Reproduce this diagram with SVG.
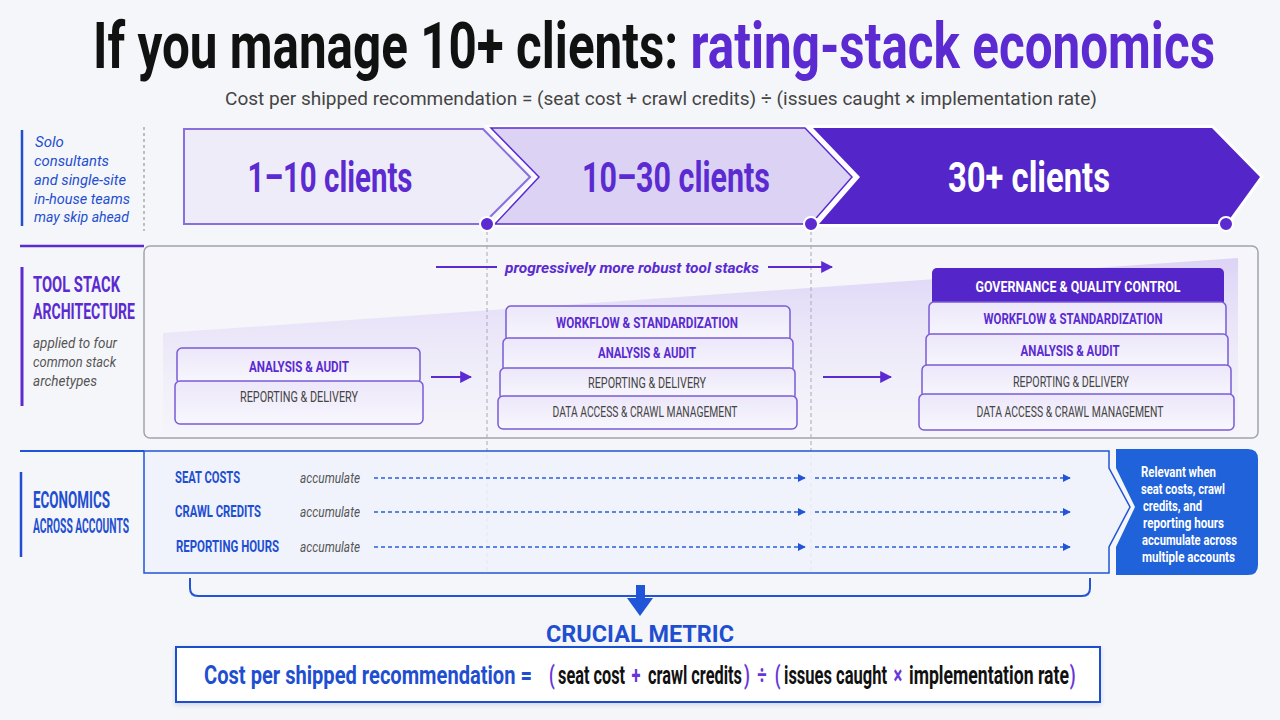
<svg xmlns="http://www.w3.org/2000/svg" width="1280" height="720" viewBox="0 0 1280 720">
<defs>
<linearGradient id="wedge" x1="0" y1="258" x2="0" y2="436" gradientUnits="userSpaceOnUse">
<stop offset="0" stop-color="#ddd3f6"/>
<stop offset="1" stop-color="#f4f3fa" stop-opacity="0.3"/>
</linearGradient>
<linearGradient id="layer" x1="0" y1="0" x2="0" y2="1">
<stop offset="0" stop-color="#ece7fa"/>
<stop offset="1" stop-color="#f8f7fd"/>
</linearGradient>
<marker id="ahp" viewBox="0 0 10 10" refX="9" refY="5" markerWidth="12" markerHeight="12" orient="auto" markerUnits="userSpaceOnUse">
<path d="M0,0 L10,5 L0,10 z" fill="#5b2bd1"/>
</marker>
<marker id="ahb" viewBox="0 0 10 10" refX="9" refY="5" markerWidth="8" markerHeight="8" orient="auto" markerUnits="userSpaceOnUse">
<path d="M0,0 L10,5 L0,10 z" fill="#1f55d6"/>
</marker>
<filter id="sh" x="-5%" y="-20%" width="110%" height="150%">
<feDropShadow dx="0" dy="2" stdDeviation="2" flood-color="#1f3a80" flood-opacity="0.18"/>
</filter>
</defs>
<style>
text{font-family:Roboto,"Liberation Sans",Arial,sans-serif}
.b{font-weight:700}
.it{font-style:italic}
.pur{fill:#5b2bd1}
.blu{fill:#1f4fd0}
.gry{fill:#444}
.lay{fill:url(#layer);stroke:#7a5bd8;stroke-width:1.5}
.lt{font-size:15px;text-anchor:middle}
.dash{stroke:#a9a9b4;stroke-width:1;stroke-dasharray:4,3;fill:none}
.bd{stroke:#2a5fd8;stroke-width:1.3;stroke-dasharray:4,3;fill:none}
.row{font-size:16px;font-weight:700;fill:#1f4fd0}
.acc{font-size:15px;font-style:italic;fill:#555}
.cw{font-size:15px;font-weight:700;fill:#fff}
.fm{font-size:25px;font-weight:700}
.op{fill:#6a35d8}
.bk{fill:#111}
</style>
<rect width="1280" height="720" fill="#f5f6fa"/>

<g id="title">
<text transform="translate(93,68) scale(0.68,1)" x="0" y="0" font-size="64" class="b" textLength="1650" lengthAdjust="spacingAndGlyphs"><tspan fill="#111">If you manage 10+ clients: </tspan><tspan fill="#5b2bd1">rating-stack economics</tspan></text>
<text x="225" y="105" font-size="19" fill="#444" textLength="872" lengthAdjust="spacingAndGlyphs">Cost per shipped recommendation = (seat cost + crawl credits) ÷ (issues caught × implementation rate)</text>
</g>

<g id="note-solo">
<line x1="22" y1="130" x2="22" y2="226" stroke="#1f4fd0" stroke-width="2.5"/>
<g class="it blu" font-size="15">
<text x="35" y="147">Solo</text>
<text x="34" y="166" textLength="75" lengthAdjust="spacingAndGlyphs">consultants</text>
<text x="34" y="185" textLength="92" lengthAdjust="spacingAndGlyphs">and single-site</text>
<text x="34" y="204" textLength="96" lengthAdjust="spacingAndGlyphs">in-house teams</text>
<text x="34" y="222" textLength="95" lengthAdjust="spacingAndGlyphs">may skip ahead</text>
</g>
<line x1="144" y1="127" x2="144" y2="231" stroke="#aaa" stroke-width="1.5" stroke-dasharray="3,3"/>
</g>

<g id="phase-1">
<polygon points="184,129 483,129 530,177 483,224 184,224" fill="#efecf9" stroke="#8a6edc" stroke-width="2"/>
<text x="330" y="192" font-size="42" class="b pur" text-anchor="middle" textLength="165" lengthAdjust="spacingAndGlyphs">1–10 clients</text>
</g>
<g id="phase-2">
<polygon points="491,128 805,128 852,177 811,224 495,224 539,177" fill="none" stroke="#fff" stroke-width="6"/>
<polygon points="491,128 805,128 852,177 811,224 495,224 539,177" fill="#dcd3f4" stroke="#5b2bd1" stroke-width="1.5"/>
<text x="676" y="192" font-size="42" class="b pur" text-anchor="middle" textLength="188" lengthAdjust="spacingAndGlyphs">10–30 clients</text>
</g>
<g id="phase-3">
<polygon points="813,128 1212,128 1260,177 1226,224 819,224 860,177" fill="none" stroke="#fff" stroke-width="6"/>
<polygon points="813,128 1212,128 1260,177 1226,224 819,224 860,177" fill="#5425c8"/>
<text x="1029" y="192" font-size="42" class="b" fill="#fff" text-anchor="middle" textLength="162" lengthAdjust="spacingAndGlyphs">30+ clients</text>
</g>

<g id="tool-stack-section">
<line x1="20" y1="246" x2="144" y2="246" stroke="#5b2bd1" stroke-width="2.5"/>
<rect x="144" y="246" width="1114" height="192" rx="6" fill="#f5f5fa" stroke="#a3a3ad" stroke-width="1.5"/>
<polygon points="163,333 1238,258 1238,434 163,434" fill="url(#wedge)"/>
<line x1="22" y1="267" x2="22" y2="406" stroke="#5b2bd1" stroke-width="3"/>
<text x="33" y="292" font-size="22" class="b pur" textLength="87" lengthAdjust="spacingAndGlyphs">TOOL STACK</text>
<text x="33" y="319" font-size="22" class="b pur" textLength="102" lengthAdjust="spacingAndGlyphs">ARCHITECTURE</text>
<g class="it" fill="#555" font-size="15">
<text x="33" y="348" textLength="84" lengthAdjust="spacingAndGlyphs">applied to four</text>
<text x="33" y="367" textLength="83" lengthAdjust="spacingAndGlyphs">common stack</text>
<text x="33" y="386" textLength="64" lengthAdjust="spacingAndGlyphs">archetypes</text>
</g>
</g>

<g id="guides">
<line x1="487" y1="231" x2="487" y2="572" class="dash"/>
<line x1="811" y1="231" x2="811" y2="572" class="dash"/>
</g>

<g id="phase-markers" fill="#5b2bd1" stroke="#fff" stroke-width="2">
<circle cx="487" cy="224" r="7"/>
<circle cx="811" cy="224" r="7"/>
<circle cx="1226" cy="224" r="7"/>
</g>

<g id="robust-label">
<text x="505" y="273" font-size="15" class="b it pur" textLength="254" lengthAdjust="spacingAndGlyphs">progressively more robust tool stacks</text>
</g>

<g id="stack-1">
<rect x="177" y="348" width="243" height="36" rx="5" class="lay"/>
<rect x="175" y="381" width="248" height="43" rx="5" class="lay"/>
<text x="299" y="372" class="lt b pur" textLength="100" lengthAdjust="spacingAndGlyphs">ANALYSIS &amp; AUDIT</text>
<text x="299" y="402" class="lt gry" textLength="118" lengthAdjust="spacingAndGlyphs">REPORTING &amp; DELIVERY</text>
</g>

<g id="stack-2">
<rect x="506" y="306" width="284" height="36" rx="5" class="lay"/>
<rect x="503" y="338" width="290" height="34" rx="5" class="lay"/>
<rect x="500" y="368" width="295" height="32" rx="5" class="lay"/>
<rect x="498" y="396" width="299" height="33" rx="5" class="lay"/>
<text x="647" y="328" class="lt b pur" textLength="182" lengthAdjust="spacingAndGlyphs">WORKFLOW &amp; STANDARDIZATION</text>
<text x="647" y="358" class="lt b pur" textLength="98" lengthAdjust="spacingAndGlyphs">ANALYSIS &amp; AUDIT</text>
<text x="647" y="388" class="lt gry" textLength="118" lengthAdjust="spacingAndGlyphs">REPORTING &amp; DELIVERY</text>
<text x="645" y="417" class="lt gry" textLength="185" lengthAdjust="spacingAndGlyphs">DATA ACCESS &amp; CRAWL MANAGEMENT</text>
</g>

<g id="stack-3">
<rect x="932" y="268" width="292" height="38" rx="5" fill="#5425c8"/>
<rect x="929" y="302" width="297" height="36" rx="5" class="lay"/>
<rect x="926" y="334" width="302" height="35" rx="5" class="lay"/>
<rect x="922" y="365" width="309" height="33" rx="5" class="lay"/>
<rect x="919" y="394" width="315" height="36" rx="5" class="lay"/>
<text x="1078" y="292" class="lt b" fill="#fff" textLength="205" lengthAdjust="spacingAndGlyphs">GOVERNANCE &amp; QUALITY CONTROL</text>
<text x="1073" y="324" class="lt b pur" textLength="179" lengthAdjust="spacingAndGlyphs">WORKFLOW &amp; STANDARDIZATION</text>
<text x="1070" y="356" class="lt b pur" textLength="99" lengthAdjust="spacingAndGlyphs">ANALYSIS &amp; AUDIT</text>
<text x="1071" y="387" class="lt gry" textLength="116" lengthAdjust="spacingAndGlyphs">REPORTING &amp; DELIVERY</text>
<text x="1070" y="417" class="lt gry" textLength="187" lengthAdjust="spacingAndGlyphs">DATA ACCESS &amp; CRAWL MANAGEMENT</text>
</g>

<g id="economics-section">
<line x1="20" y1="451" x2="144" y2="451" stroke="#1f55d6" stroke-width="2"/>
<path d="M144,451 L1109,451 L1109,468 L1130,507 L1109,547 L1109,573 L144,573 Z" fill="#eef2fb" fill-opacity="0.85" stroke="#1f55d6" stroke-width="1.5"/>
<line x1="21" y1="472" x2="21" y2="557" stroke="#1f4fd0" stroke-width="2.5"/>
<text transform="translate(0,508) scale(0.6,1)" x="55" y="0" font-size="24" class="b blu" textLength="128.3" lengthAdjust="spacingAndGlyphs">ECONOMICS</text>
<text transform="translate(0,533) scale(0.55,1)" x="60" y="0" font-size="20" class="b blu" textLength="174.5" lengthAdjust="spacingAndGlyphs">ACROSS ACCOUNTS</text>
<text transform="translate(0,483) scale(0.68,1)" x="257.4" y="0" class="row" textLength="95.6" lengthAdjust="spacingAndGlyphs">SEAT COSTS</text>
<text transform="translate(0,517) scale(0.68,1)" x="257.4" y="0" class="row" textLength="126.5" lengthAdjust="spacingAndGlyphs">CRAWL CREDITS</text>
<text transform="translate(0,552) scale(0.68,1)" x="258.8" y="0" class="row" textLength="151.5" lengthAdjust="spacingAndGlyphs">REPORTING HOURS</text>
<text x="300" y="483" class="acc" textLength="60" lengthAdjust="spacingAndGlyphs">accumulate</text>
<text x="300" y="517" class="acc" textLength="60" lengthAdjust="spacingAndGlyphs">accumulate</text>
<text x="300" y="552" class="acc" textLength="60" lengthAdjust="spacingAndGlyphs">accumulate</text>
</g>

<g id="callout">
<path d="M1116,449 L1248,449 Q1258,449 1258,459 L1258,565 Q1258,575 1248,575 L1116,575 L1116,547 L1135,507 L1116,468 Z" fill="#1f62da"/>
<text x="1141" y="477" class="cw" textLength="75" lengthAdjust="spacingAndGlyphs">Relevant when</text>
<text x="1141" y="494" class="cw" textLength="84" lengthAdjust="spacingAndGlyphs">seat costs, crawl</text>
<text x="1143" y="511" class="cw" textLength="59" lengthAdjust="spacingAndGlyphs">credits, and</text>
<text x="1143" y="528" class="cw" textLength="81" lengthAdjust="spacingAndGlyphs">reporting hours</text>
<text x="1142" y="545" class="cw" textLength="95" lengthAdjust="spacingAndGlyphs">accumulate across</text>
<text x="1142" y="562" class="cw" textLength="93" lengthAdjust="spacingAndGlyphs">multiple accounts</text>
</g>

<g id="connectors">
<line x1="436" y1="267" x2="497" y2="267" stroke="#5b2bd1" stroke-width="2"/>
<line x1="768" y1="267" x2="832" y2="267" stroke="#5b2bd1" stroke-width="2" marker-end="url(#ahp)"/>
<line x1="431" y1="377" x2="471" y2="377" stroke="#5b2bd1" stroke-width="2" marker-end="url(#ahp)"/>
<line x1="823" y1="377" x2="891" y2="377" stroke="#5b2bd1" stroke-width="2" marker-end="url(#ahp)"/>
<line x1="374" y1="478" x2="805" y2="478" class="bd" marker-end="url(#ahb)"/>
<line x1="815" y1="478" x2="1070" y2="478" class="bd" marker-end="url(#ahb)"/>
<line x1="374" y1="512" x2="805" y2="512" class="bd" marker-end="url(#ahb)"/>
<line x1="815" y1="512" x2="1070" y2="512" class="bd" marker-end="url(#ahb)"/>
<line x1="374" y1="547" x2="805" y2="547" class="bd" marker-end="url(#ahb)"/>
<line x1="815" y1="547" x2="1070" y2="547" class="bd" marker-end="url(#ahb)"/>
<path d="M190,578 L190,588 Q190,596 198,596 L1082,596 Q1090,596 1090,588 L1090,578" fill="none" stroke="#1f55d6" stroke-width="2"/>
<rect x="636" y="585" width="9" height="15" fill="#1f55d6"/>
<polygon points="627,598 653,598 640,616" fill="#1f55d6"/>
</g>

<g id="crucial-metric">
<text x="640" y="642" font-size="24" class="b blu" text-anchor="middle" textLength="188" lengthAdjust="spacingAndGlyphs">CRUCIAL METRIC</text>
<rect x="176" y="647" width="924" height="55" fill="#fff" stroke="#1f4fd0" stroke-width="2" filter="url(#sh)"/>
<g transform="translate(0,684) scale(0.66,1)">
<text x="309.1" y="0" class="fm blu" textLength="497" lengthAdjust="spacingAndGlyphs">Cost per shipped recommendation =</text>
<text x="832" y="0" class="fm op">(</text>
<text x="845.5" y="0" class="fm bk" textLength="101.5" lengthAdjust="spacingAndGlyphs">seat cost</text>
<text x="963.6" y="0" class="fm op" text-anchor="middle">+</text>
<text x="981.8" y="0" class="fm bk" textLength="142.4" lengthAdjust="spacingAndGlyphs">crawl credits</text>
<text x="1127.3" y="0" class="fm op">)</text>
<text x="1154.5" y="0" class="fm op" text-anchor="middle">÷</text>
<text x="1174" y="0" class="fm op">(</text>
<text x="1187.9" y="0" class="fm bk" textLength="156.1" lengthAdjust="spacingAndGlyphs">issues caught</text>
<text x="1360.6" y="0" class="fm op" text-anchor="middle">×</text>
<text x="1377.3" y="0" class="fm bk" textLength="242.4" lengthAdjust="spacingAndGlyphs">implementation rate</text>
<text x="1621" y="0" class="fm op">)</text>
</g>
</g>
</svg>
